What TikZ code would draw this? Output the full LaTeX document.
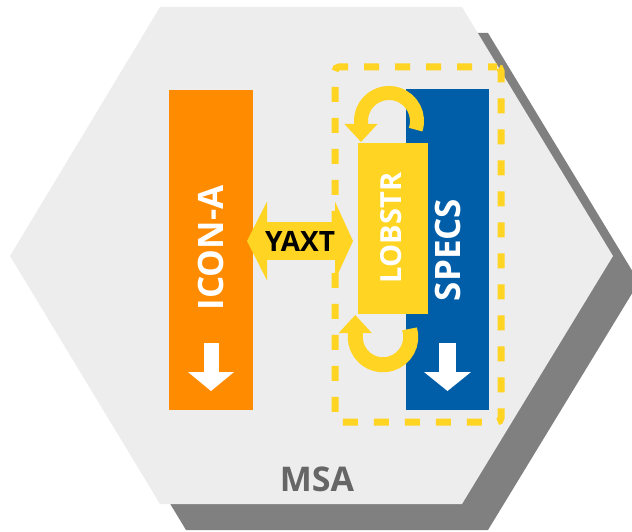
\documentclass[tikz,border=0pt]{standalone}
\usepackage{fontspec}
\setmainfont{Open Sans}
\usetikzlibrary{arrows.meta}
\definecolor{hexgray}{HTML}{EDEDED}
\definecolor{shadowgray}{HTML}{808080}
\definecolor{iconorange}{HTML}{FF8C00}
\definecolor{specsblue}{HTML}{005EA8}
\definecolor{lobyellow}{HTML}{FFD422}
\definecolor{msagray}{HTML}{666666}
\begin{document}
\begin{tikzpicture}[x=1pt,y=1pt,
  box/.style={draw=none, inner sep=0pt, outer sep=0pt},
  vlabel/.style={text=white, font=\bfseries\fontsize{35}{35}\selectfont, rotate=90, inner sep=0pt},
  downarrow/.style={draw=white, line width=15pt, -{Triangle[width=45pt,length=19pt]}},
  looparrow/.style={draw=lobyellow, line width=14pt, -{Triangle[width=32pt,length=18pt]}},
  group/.style={draw=lobyellow, line width=7pt, dash pattern=on 15pt off 16pt, dash phase=6pt, rounded corners=4pt, inner sep=0pt, outer sep=0pt}]
\useasboundingbox (0,0) rectangle (632,531);
% hexagon with shadow
\fill[shadowgray] (186,498) -- (488,498) -- (639,249) -- (488,1) -- (186,1) -- (36,249) -- cycle;
\fill[hexgray] (160,524) -- (462,524) -- (613,275) -- (462,27) -- (160,27) -- (10,275) -- cycle;
% boxes
\node[box, fill=iconorange, minimum width=84pt, minimum height=320pt] (icon) at (211,281) {};
\node[box, fill=specsblue, minimum width=83pt, minimum height=321pt] (specs) at (447.5,281.5) {};
\node[group, minimum width=166pt, minimum height=355pt] (grp) at (418,286.5) {};
\node[box, fill=lobyellow, minimum width=70pt, minimum height=171pt] (lobstr) at (393,302.5) {};
% loop arrows
\coordinate (topc) at (389,410);
\coordinate (botc) at (383,194);
\draw[looparrow] ([shift={(-18:28)}]topc) arc[start angle=-18, end angle=180, radius=28] -- ++(0,-21);
\draw[looparrow, line width=15pt] ([shift={(17:27.75)}]botc) arc[start angle=17, end angle=-180, radius=27.75] -- ++(0,22);
% YAXT double arrow
\coordinate (yaxtc) at (300,290);
\draw[lobyellow, line width=38pt, {Triangle[width=78pt,length=20pt]}-{Triangle[width=78pt,length=18pt]}]
  ([xshift=-6pt]icon.east |- yaxtc) -- ([xshift=-5pt]lobstr.west |- yaxtc);
% white down arrows
\draw[downarrow] ([yshift=67pt]icon.south) -- ([yshift=19pt]icon.south);
\draw[downarrow, line width=17pt, -{Triangle[width=46pt,length=19pt]}] ([yshift=67pt]specs.south) -- ([yshift=19pt]specs.south);
% labels
\node[vlabel] (iconlabel) at (211,283) {ICON-A};
\node[vlabel] (specslabel) at (448,281) {SPECS};
\node[vlabel, font=\bfseries\fontsize{29}{29}\selectfont] (loblabel) at (391,303) {LOBSTR};
\node[font=\bfseries\fontsize{28}{28}\selectfont, inner sep=0pt] (yaxt) at (yaxtc) {YAXT};
\node[text=msagray, font=\bfseries\fontsize{34}{34}\selectfont, inner sep=0pt] (msa) at (317,52) {MSA};
\end{tikzpicture}
\end{document}
